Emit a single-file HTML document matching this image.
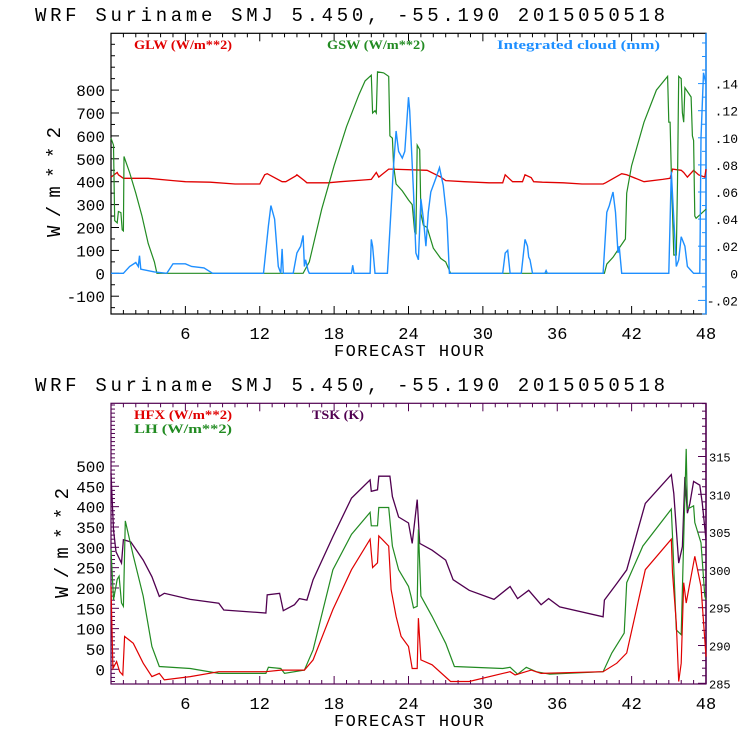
<!DOCTYPE html>
<html><head><meta charset="utf-8"><style>
html,body{margin:0;padding:0;background:#fff;}
svg{display:block;font-family:"Liberation Mono",monospace;}
</style></head><body>
<svg id="c" width="740" height="740" viewBox="0 0 740 740" xmlns="http://www.w3.org/2000/svg"></svg>
<script>
// ---- top chart data ----
const hoursTicks = [6,12,18,24,30,36,42,48];
const topLeftTicks = [-100,0,100,200,300,400,500,600,700,800];
const topRightTicks = [-0.02,0,0.02,0.04,0.06,0.08,0.10,0.12,0.14];
const topRightLabels = ["-.02","0",".02",".04",".06",".08",".10",".12",".14"];
const glwH = [0,0.5,0.6,1.0,3,5,6,8,10,12,12.4,12.6,13.8,14.1,14.9,15.0,15.6,15.8,17.5,18.5,20.5,21.0,21.4,21.6,22.4,22.6,25.5,26.6,27.0,28.5,30.5,31.6,31.8,32.1,32.4,33.2,33.4,33.9,34.1,34.8,36.5,38.0,39.7,39.9,41.2,41.6,43.0,44.5,45.1,45.3,46.0,46.2,46.5,47.0,47.4,47.9,48];
const glwV = [420,440,430,415,415,405,400,398,390,390,430,435,400,400,425,430,405,395,395,400,408,410,440,420,455,455,450,420,405,400,395,395,430,415,400,400,430,418,400,398,395,390,390,395,435,430,400,410,415,455,450,440,420,450,430,420,455];
const gswH = [0,0.2,0.3,0.5,0.6,0.8,0.9,1.0,1.05,1.5,2.0,2.5,3.0,3.5,3.7,15.5,16,17,18,19,20,20.5,21,21.1,21.3,21.4,21.5,22,22.4,22.5,22.7,22.8,23,23.5,24,24.3,24.5,24.6,24.7,24.9,25.0,25.2,25.5,26,26.6,27,27.4,39.8,40,40.5,41,41.5,41.6,42,43,44,44.9,45,45.1,45.2,45.4,45.6,45.7,45.8,46.0,46.1,46.2,46.3,46.8,46.9,47.0,47.1,47.2,48];
const gswV = [590,560,230,220,270,265,190,185,510,440,350,250,130,50,0,0,50,280,470,640,780,840,865,700,710,700,880,875,860,600,590,470,390,360,320,300,180,170,560,540,260,210,200,110,65,50,0,0,40,70,110,150,350,470,660,800,860,660,660,440,80,80,400,860,850,700,660,810,770,600,580,250,240,280];
const cloudH = [0,1.0,1.5,2.0,2.2,2.3,2.4,3.5,4.5,5,6,6.5,7.5,8.2,12.3,12.7,12.9,13.2,13.5,13.7,13.8,13.9,14.7,15.0,15.3,15.5,15.6,15.7,15.9,16,19.4,19.5,19.6,20.9,21.0,21.1,21.3,22.3,22.8,23.0,23.2,23.5,23.7,24.0,24.1,24.4,24.6,24.8,25.0,25.2,25.4,25.6,25.8,26.2,26.5,26.8,27.1,27.3,31.6,31.8,32.0,32.2,33.1,33.4,33.6,33.7,33.8,34.0,35.0,35.1,35.2,39.7,40.0,40.2,40.5,40.7,40.9,41.0,41.2,45.0,45.2,45.4,45.6,45.8,46.0,46.3,46.5,46.8,47.0,47.5,47.6,47.8,48];
const cloudV = [0,0,0.005,0.008,0.005,0.013,0.003,0.001,0,0.007,0.007,0.005,0.004,0,0,0.035,0.05,0.04,0.005,0,0.018,0,0,0.015,0.02,0.028,0.005,0.01,0.002,0,0,0.006,0,0,0.025,0.02,0,0,0.08,0.105,0.09,0.085,0.09,0.13,0.12,0.06,0.015,0.01,0.055,0.04,0.02,0.045,0.06,0.07,0.078,0.065,0.04,0,0,0.015,0.017,0,0,0.025,0.02,0.012,0.01,0,0,0.002,0,0,0.045,0.05,0.06,0.045,0.015,0.02,0,0,0.075,0.04,0.005,0.01,0.027,0.02,0.005,0.002,0,0,0.1,0.148,0.14];
// ---- bottom chart data ----
const botLeftTicks = [0,50,100,150,200,250,300,350,400,450,500];
const botRightTicks = [285,290,295,300,305,310,315];
const tskH = [0,0.2,0.4,0.85,1.0,1.6,2.6,3.3,3.9,4.3,6.4,8.7,9.1,12.5,12.6,13.6,13.9,14.8,15.2,15.8,16.3,17.9,19.4,20.9,21.0,21.5,21.6,22.5,22.7,23.2,24.0,24.3,24.7,24.9,25.9,27.0,27.6,28.9,30.9,32.2,32.8,33.7,34.7,35.3,36.2,39.7,39.8,40.8,41.6,43.1,45.2,45.4,45.8,46.1,46.3,46.5,46.7,47.0,47.5,47.7,48];
const tskV = [312.8,305.3,302.4,300.9,304,303.7,301.3,299.1,296.5,296.9,296.1,295.6,294.7,294.3,296.7,296.9,294.6,295.4,296.2,296,298.7,304.4,309.5,311.9,310.4,310.6,312.4,312.4,309.7,307,306.2,303.5,309.3,303.5,302.6,301.3,298.7,297.3,296.1,297.8,296.2,297.3,295.4,296.2,295.1,293.8,296,298.2,300,308.8,312.6,310.1,300.9,303.1,312.3,307.5,308.8,311.7,311.2,308.8,304];
const lhH = [0,0.2,0.5,0.65,0.85,1.0,1.15,1.8,2.6,3.3,3.9,6.4,8.7,12.5,12.7,13.7,14,15.6,16.3,17.9,19.4,20.9,21.0,21.5,21.6,22.4,22.7,23.2,24,24.2,24.4,24.7,24.8,25.0,25.9,27,27.7,31.6,32.2,32.8,33.5,34.3,35.4,39.7,40.4,41.4,41.6,42.9,45.2,45.3,45.6,46.0,46.2,46.4,46.5,47,47.1,47.6,47.9,48];
const lhV = [295,171,221,229,163,155,365,279,180,56,7,2,-10,-10,5,2,-10,-2,48,245,332,386,353,353,398,398,303,245,204,180,151,155,344,180,130,64,7,2,5,-12,5,-6,-12,-6,40,89,213,303,394,328,97,85,320,542,394,402,361,311,180,171];
const hfxH = [0,0.15,0.45,0.7,0.95,1.1,1.8,2.6,3.3,3.9,4.3,6.4,8.7,12.5,13.7,15.6,16.3,17.9,19.4,20.9,21.1,21.5,21.6,22.4,22.6,23.0,23.4,24.0,24.3,24.7,24.8,25.0,25.9,27.4,28.9,31.6,32.2,32.6,33.9,34.7,39.7,40.8,41.6,43.1,45.2,45.3,45.6,45.8,46.0,46.2,46.4,47.1,47.6,48];
const hfxV = [204,2,19,-6,-14,81,64,15,-18,-10,-26,-18,-6,-6,-2,-2,23,147,245,320,250,262,328,303,196,130,81,56,2,2,126,23,11,-30,-30,-10,-6,-14,-2,-10,-6,15,40,245,320,237,114,-30,15,213,163,278,204,31];

const NS="http://www.w3.org/2000/svg";
const svg=document.getElementById('c');
function mk(tag,attrs,parent){const e=document.createElementNS(NS,tag);for(const k in attrs)e.setAttribute(k,attrs[k]);(parent||svg).appendChild(e);return e;}
function txt(s,attrs,parent){const e=mk('text',attrs,parent);e.textContent=s;return e;}

const X0=111,X1=706;
const xs=h=>X0+(X1-X0)*h/48;
const tL=v=>273.3-v*0.229;
const tR=v=>273.3-v*1355;
const bL=v=>669.3-v*0.4066;
const bR=v=>683.3-(v-285)*7.56;

function series(H,V,ys,color,name,w){
  const p=H.map((h,i)=>xs(h).toFixed(1)+','+ys(V[i]).toFixed(1)).join(' ');
  const e=mk('polyline',{points:p,fill:'none',stroke:color,'stroke-width':w||1.2,'stroke-linejoin':'miter'});
  
  
}

function panel(oy,frameColor,rightColor,yScale,lTicks,lMinStep,lMin,lMax,rScale,rTicks,rLabels,rMinStep,rMin,rMax,lFont,rFont,rx,rAnchor,prefix){
  const top=oy+33.3,bot=oy+314;
  const t=txt('WRF  Suriname SMJ  5.450, -55.190  2015050518',{x:35,y:oy+21,'font-size':19,fill:'#000',textLength:630,lengthAdjust:'spacing','xml:space':'preserve'});
  
  
  const f=mk('rect',{x:X0,y:top,width:X1-X0,height:bot-top,fill:'none',stroke:frameColor,'stroke-width':1.2});
  
  
  mk('line',{x1:X1,y1:top,x2:X1,y2:bot,stroke:rightColor,'stroke-width':1.5});
  for(let h=1;h<48;h++){const maj=h%6===0;mk('line',{x1:xs(h),y1:bot,x2:xs(h),y2:bot-(maj?8:4),stroke:frameColor,'stroke-width':1});
    mk('line',{x1:xs(h),y1:top,x2:xs(h),y2:top+(maj?8:4),stroke:frameColor,'stroke-width':1});}
  hoursTicks.forEach(h=>{const e=txt(String(h),{x:xs(h),y:oy+339,'font-size':17,'text-anchor':'middle',fill:'#000'});
    
    });
  const xt=txt('FORECAST HOUR',{x:409,y:oy+356,'font-size':17,'text-anchor':'middle',fill:'#000',textLength:150,lengthAdjust:'spacing'});
  
  
  for(let v=lMin;v<=lMax+1e-9;v+=lMinStep){const y=yScale(v);if(y<top||y>bot)continue;
    const maj=lTicks.some(t=>Math.abs(t-v)<1e-6);
    mk('line',{x1:X0,y1:y,x2:X0+(maj?8:4),y2:y,stroke:frameColor,'stroke-width':1});}
  lTicks.forEach(v=>{const e=txt(String(v),{x:105,y:yScale(v)+6,'font-size':lFont,'text-anchor':'end',fill:'#000'});
    
    });
  for(let v=rMin;v<=rMax+1e-9;v+=rMinStep){const y=rScale(v);if(y<top||y>bot)continue;
    const maj=rTicks.some(t=>Math.abs(t-v)<1e-6);
    mk('line',{x1:X1,y1:y,x2:X1-(maj?8:4),y2:y,stroke:rightColor,'stroke-width':1});}
  rTicks.forEach((v,i)=>{const e=txt(rLabels[i],{x:rx,y:rScale(v)+5,'font-size':rFont,'text-anchor':rAnchor,fill:'#000'});
    
    });
}

// TOP panel
panel(0,'#000','#1e8fff',tL,topLeftTicks,50,-150,1050,tR,topRightTicks,topRightLabels,0.01,-0.03,0.18,16,13,738,'end','top');
const yt1=txt('W/m**2',{x:0,y:0,'font-size':19,'text-anchor':'middle',fill:'#000',transform:'translate(60,182) rotate(-90)',textLength:110,lengthAdjust:'spacing'});


series(glwH,glwV,tL,'#e00000','glw-line',1.3);
series(gswH,gswV,tL,'#228b22','gsw-line',1.2);
series(cloudH,cloudV,tR,'#1e8fff','integrated-cloud-line',1.4);
const sf='font-family:"Liberation Serif",serif;font-weight:bold;';
[['GLW (W/m**2)',134,49,98,'#e00000','legend-glw'],['GSW (W/m**2)',327,49,98,'#228b22','legend-gsw'],['Integrated cloud (mm)',497,49,163,'#1e8fff','legend-cloud']].forEach(a=>{
  const e=txt(a[0],{x:a[1],y:a[2],'font-size':13,fill:a[4],style:sf,textLength:a[3],lengthAdjust:'spacingAndGlyphs'});
  
  
});

// BOTTOM panel
panel(370,'#500050','#500050',bL,botLeftTicks,10,-30,750,bR,botRightTicks,botRightTicks.map(String),1,285,322,16,12,709,'start','bottom');
const yt2=txt('W/m**2',{x:0,y:0,'font-size':19,'text-anchor':'middle',fill:'#000',transform:'translate(68,543) rotate(-90)',textLength:110,lengthAdjust:'spacing'});


series(tskH,tskV,bR,'#500050','tsk-line',1.3);
series(lhH,lhV,bL,'#228b22','lh-line',1.2);
series(hfxH,hfxV,bL,'#e00000','hfx-line',1.2);
[['HFX (W/m**2)',134,419,98,'#e00000','legend-hfx'],['LH  (W/m**2)',134,433,98,'#228b22','legend-lh'],['TSK (K)',312,419,52,'#500050','legend-tsk']].forEach(a=>{
  const e=txt(a[0],{x:a[1],y:a[2],'font-size':13,fill:a[4],style:sf,textLength:a[3],lengthAdjust:'spacingAndGlyphs','xml:space':'preserve'});
  
  
});
</script>
</body></html>
